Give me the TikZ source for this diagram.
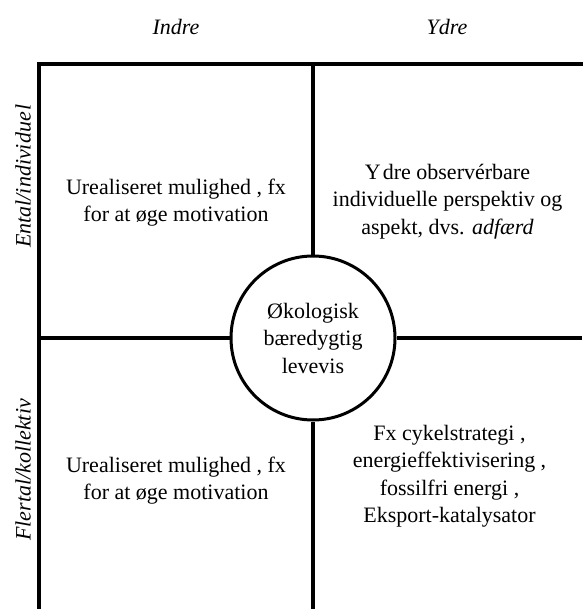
\documentclass[tikz,border=0pt]{standalone}
\usepackage{fontspec}
\setmainfont{Liberation Serif}
\begin{document}
\begin{tikzpicture}[x=1pt,y=-1pt,
  frame/.style={line width=4.5pt},
  ring/.style={circle,draw,line width=3pt,minimum size=164pt,inner sep=0pt,align=center,font=\fontsize{22}{27.5}\selectfont},
  celltext/.style={align=center,font=\fontsize{22}{27.5}\selectfont,inner sep=0pt},
  head/.style={font=\fontsize{22}{27.5}\selectfont\itshape,inner sep=0pt}]
\useasboundingbox (0,0) rectangle (582,609);
\coordinate (tl) at (39,64);
\coordinate (tr) at (582,64);
\coordinate (bl) at (39,609);
\coordinate (tm) at (313,64);
\coordinate (bm) at (313,609);
\coordinate (ml) at (39,338);
\coordinate (mr) at (582,338);
\node[ring] (c) at (313,338) {Økologisk\\bæredygtig\\levevis};
\draw[frame,line cap=rect] (bl) -- (tl) -- (tr);
\draw[frame] (tm) -- (c.north);
\draw[frame] (c.south) -- (bm);
\draw[frame] (ml) -- (c.west);
\draw[frame] (c.east) -- (mr);
\node[head] (indre) at (176,27) {Indre};
\node[head] (ydre) at (447,27) {Ydre};
\node[head,rotate=90] (ental) at (23,176) {Ental/individue\kern2pt l};
\node[head,rotate=90] (flertal) at (23,470) {Flertal/kollektiv};
\node[celltext] (q1) at (176,202.5) {Urealiseret mulighed , fx\\for at øge motivation};
\node[celltext] (q2) at (447.5,201.5) {Y\kern2pt dre observérbare\\individuelle perspektiv og\\aspekt, dvs. \textit{adfærd}};
\node[celltext] (q3) at (176,480.5) {Urealiseret mulighed , fx\\for at øge motivation};
\node[celltext] (q4) at (449.5,476) {Fx cykelstrategi ,\\energieffektivisering ,\\fossilfri energi ,\\Eksport-katalysator};
\end{tikzpicture}
\end{document}
